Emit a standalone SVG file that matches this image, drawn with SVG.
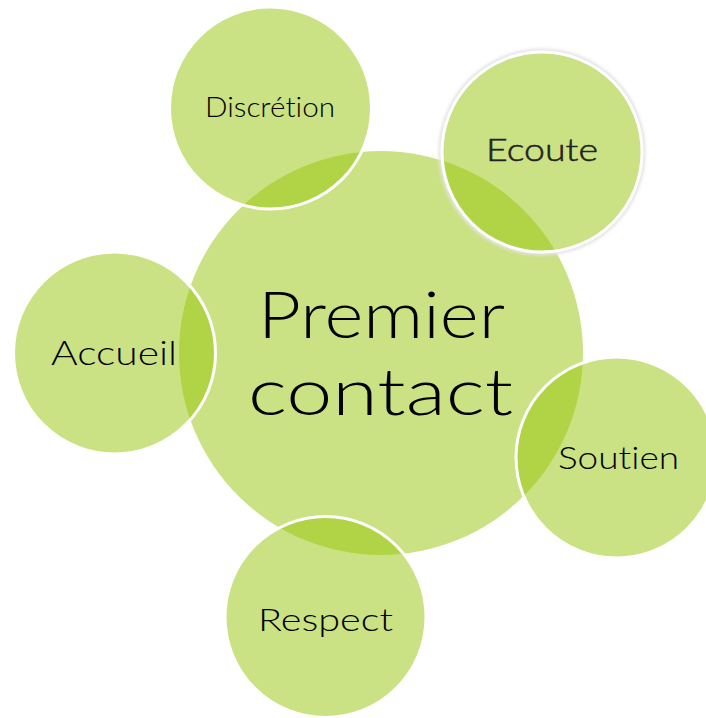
<svg xmlns="http://www.w3.org/2000/svg" width="706" height="718" viewBox="0 0 706 718">
  <defs>
    <style>
      .c { fill: rgb(150,197,8); fill-opacity: 0.5; }
      .s { stroke: #ffffff; stroke-width: 3; }
      .t { font-family: Lato, "Liberation Sans", sans-serif; font-weight: 300; fill: #000; font-variant-ligatures: none; }
    </style>
    <filter id="glow" x="-20%" y="-20%" width="140%" height="140%">
      <feGaussianBlur stdDeviation="1.5"/>
    </filter>
  </defs>
  <rect width="706" height="718" fill="#ffffff"/>
  <g id="center">
    <circle class="c" cx="381" cy="353" r="202"/>
  </g>
  <g id="discretion">
    <circle class="c s" cx="270.5" cy="108" r="101"/>
  </g>
  <g id="ecoute">
    <circle cx="542" cy="152" r="101.5" fill="none" stroke="#e4e4e4" stroke-width="4" filter="url(#glow)"/>
    <circle class="c s" cx="542" cy="152" r="100"/>
  </g>
  <g id="accueil">
    <circle class="c s" cx="114.5" cy="353" r="101"/>
  </g>
  <g id="soutien">
    <circle class="c s" cx="616.5" cy="457.5" r="100.5"/>
  </g>
  <g id="respect">
    <circle class="c s" cx="325.5" cy="617" r="100.5"/>
  </g>
  <g id="labels">
    <text class="t" x="258" y="338" font-size="66" textLength="247" lengthAdjust="spacingAndGlyphs">Premier</text>
    <text class="t" x="248" y="415" font-size="66" textLength="265" lengthAdjust="spacingAndGlyphs">contact</text>
    <text class="t" x="205" y="117" font-size="27" textLength="130" lengthAdjust="spacingAndGlyphs">Discrétion</text>
    <text class="t" x="486" y="161" font-size="31" textLength="112" lengthAdjust="spacingAndGlyphs" style="fill:#222;stroke:#222;stroke-width:0.5">Ecoute</text>
    <text class="t" x="51" y="365" font-size="33" textLength="126" lengthAdjust="spacingAndGlyphs">Accueil</text>
    <text class="t" x="558" y="469" font-size="32" textLength="121" lengthAdjust="spacingAndGlyphs">Soutien</text>
    <text class="t" x="258" y="631" font-size="32" textLength="135" lengthAdjust="spacingAndGlyphs">Respect</text>
  </g>
</svg>
